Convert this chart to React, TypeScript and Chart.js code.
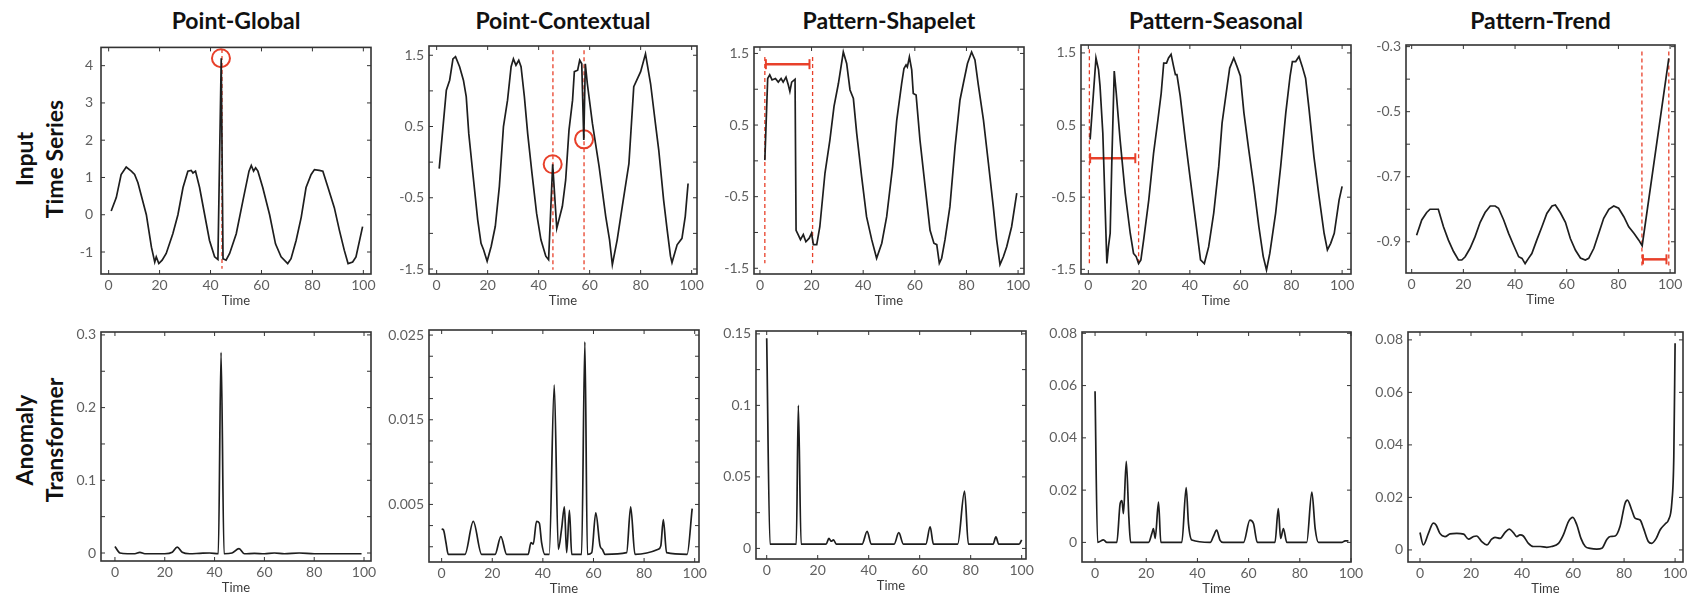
import React, { useEffect, useRef } from 'react';
import { Chart, registerables } from 'chart.js';

Chart.register(...registerables);

// ---------------- DATA ----------------
const columnTitles = ['Point-Global', 'Point-Contextual', 'Pattern-Shapelet', 'Pattern-Seasonal', 'Pattern-Trend'];
const rowTitles = [['Input', 'Time Series'], ['Anomaly', 'Transformer']];
const xAxisTitle = 'Time';

const xTickValues = [0, 20, 40, 60, 80, 100];
const xTickLabels = ['0', '20', '40', '60', '80', '100'];

// Input time series (top row)
const globalX = [1, 3, 4.9, 6.9, 8.9, 10.2, 11.5, 14.8, 16.8, 18.1, 18.7, 19.7, 21, 22.6, 25.2, 27.2, 29.2, 31.1, 32.4, 33.1, 34.1, 35.7, 37.7, 39.6, 41.6, 42.9, 44.2, 44.9, 46.1, 47.5, 50.1, 52.7, 55.1, 56, 56.9, 57.7, 58.6, 60.5, 63.2, 65.5, 67.7, 70.3, 71.6, 73.6, 75.6, 77.5, 79.5, 80.8, 82.7, 84.1, 86, 88.6, 90.6, 92.5, 94, 95.8, 97.1, 99.7];
const globalY = [0.1, 0.46, 1.08, 1.28, 1.17, 1.08, 0.86, 0, -0.87, -1.27, -1.13, -1.31, -1.22, -1.04, -0.51, 0, 0.73, 1.17, 1.19, 1.12, 1.17, 0.73, 0, -0.69, -1.13, -1.2, 4.2, -1.18, -1.22, -1.04, -0.51, 0.37, 1.17, 1.32, 1.17, 1.26, 1.17, 0.73, 0, -0.78, -1.13, -1.31, -1.18, -0.69, -0.07, 0.73, 1.08, 1.21, 1.19, 1.17, 0.76, 0.19, -0.42, -0.95, -1.31, -1.27, -1.13, -0.32];

const contextX = [1, 3.8, 5.1, 6.4, 7.4, 9, 10.5, 11.6, 12.6, 14.2, 16.1, 17.4, 18.4, 19.8, 21.4, 23, 24.6, 26.2, 27.8, 29.2, 30.1, 31.1, 32.2, 33.1, 34.4, 35.7, 37.4, 39.2, 40.9, 42.8, 43.9, 45.5, 47.1, 49.3, 50.6, 51.9, 53.3, 54, 55.3, 56.1, 56.9, 57.7, 58.3, 59.1, 61.1, 63.7, 66.3, 67.8, 68.9, 70.8, 72.8, 75.4, 77.3, 80, 81.9, 83.9, 85.8, 87.1, 89, 90.4, 91.7, 92.3, 94.3, 96.2, 97.5, 98.6];
const contextY = [-0.09, 1.01, 1.15, 1.45, 1.48, 1.34, 1.15, 0.92, 0.4, -0.16, -0.81, -1.14, -1.23, -1.39, -1.18, -0.9, -0.34, 0.5, 0.87, 1.34, 1.45, 1.36, 1.43, 1.34, 0.92, 0.4, -0.16, -0.72, -1.09, -1.32, -1.37, -0.03, -0.93, -0.62, -0.25, 0.45, 0.87, 1.27, 1.29, 1.43, 1.38, 0.31, 1.38, 1.1, 0.54, -0.06, -0.76, -1.09, -1.44, -1.09, -0.62, -0.02, 1.06, 1.27, 1.52, 1.1, 0.54, 0.17, -0.53, -0.95, -1.32, -1.41, -1.16, -1.07, -0.76, -0.3];

const shapeletX = [1.9, 3, 3.8, 4.7, 6, 7.1, 8.2, 9, 10.1, 11, 11.6, 12.3, 13.6, 14, 14.8, 15.7, 16.8, 17.8, 19.1, 20, 20.7, 22, 23.2, 25.2, 27.1, 28.7, 30.4, 32.3, 33.6, 34.9, 36.2, 37.5, 39.4, 41.3, 43.3, 45.2, 47.2, 49.1, 51.4, 53, 54.9, 55.8, 56.6, 57.1, 57.9, 58.8, 59.4, 60.5, 62, 64, 65.9, 67.4, 68.5, 69.5, 70.4, 71.7, 73.6, 75.6, 77.5, 78.8, 80.4, 82, 83.3, 84.6, 86.6, 88.5, 90.4, 91.7, 93, 94.3, 95.6, 97.5, 99.5];
const shapeletY = [0.01, 1.15, 1.2, 1.13, 1.15, 1.1, 1.15, 1.1, 1.17, 1.06, 0.97, 1.1, 1.14, -0.97, -1.03, -1.1, -1.03, -1.13, -1.08, -1.01, -1.17, -1.17, -0.92, -0.17, 0.29, 0.76, 1.08, 1.52, 1.36, 0.99, 0.87, 0.38, -0.22, -0.78, -1.1, -1.36, -1.15, -0.78, -0.08, 0.57, 1.08, 1.29, 1.34, 1.31, 1.45, 1.27, 0.94, 0.92, 0.29, -0.36, -0.97, -1.15, -1.17, -1.43, -1.36, -1.1, -0.64, 0.2, 0.85, 1.08, 1.36, 1.52, 1.41, 1.06, 0.57, -0.03, -0.64, -1.1, -1.45, -1.34, -1.2, -0.92, -0.45];

const seasonalX = [0.7, 3, 4, 4.6, 5.7, 6.6, 7.3, 7.9, 8.6, 9.2, 10.2, 11, 12.5, 14.5, 16.5, 17.8, 18.8, 19.8, 20.7, 21.8, 23.8, 25.7, 27.4, 28.7, 29.7, 30.8, 31.6, 32.6, 33.6, 34.3, 34.9, 36.2, 38.2, 40.2, 42.2, 44.2, 45.7, 47.4, 49.4, 51.4, 52.7, 54.7, 55.7, 57.3, 58.6, 59.9, 61.3, 63.2, 65.2, 67.2, 68.9, 70.2, 71.5, 73.8, 75.8, 77.8, 79.5, 80.4, 81.7, 83, 84.3, 85.6, 87, 88.9, 90.9, 92.9, 94.2, 95.5, 96.9, 98.8, 100];
const seasonalY = [0.3, 1.43, 1.27, 1.04, 0.39, -0.63, -1.42, -1.19, -1.0, -0.07, 1.25, 0.94, 0.3, -0.44, -1.0, -1.28, -1.32, -1.42, -1.37, -1.09, -0.54, 0.11, 0.57, 0.94, 1.36, 1.36, 1.43, 1.48, 1.31, 1.2, 1.2, 0.9, 0.3, -0.26, -0.81, -1.37, -1.42, -1.19, -0.72, -0.07, 0.53, 1.04, 1.29, 1.43, 1.31, 1.18, 0.67, 0.16, -0.35, -0.91, -1.32, -1.51, -1.28, -0.72, -0.07, 0.67, 1.18, 1.38, 1.38, 1.45, 1.31, 1.15, 0.71, 0.06, -0.49, -1.0, -1.23, -1.14, -1.0, -0.54, -0.35];

const trendX = [1.9, 3.9, 5.8, 7.1, 9, 10.3, 12.3, 14.2, 16.2, 18.1, 19.4, 20.7, 22.6, 24.5, 26.5, 28.4, 30.4, 32.3, 33.6, 35.6, 37.5, 39.4, 41.4, 42.7, 43.9, 45.2, 46.5, 48.4, 50.4, 52.3, 54.3, 55.6, 57.5, 59.5, 61.4, 63.4, 65.3, 67.2, 68.5, 70.5, 72.4, 74.3, 76.3, 78.2, 80.1, 82.1, 84, 86, 87.9, 89.2, 99.5];
const trendY = [-0.88, -0.833, -0.81, -0.8, -0.8, -0.8, -0.854, -0.895, -0.93, -0.956, -0.956, -0.946, -0.92, -0.885, -0.84, -0.81, -0.79, -0.79, -0.797, -0.833, -0.874, -0.91, -0.946, -0.951, -0.967, -0.951, -0.936, -0.895, -0.854, -0.813, -0.79, -0.787, -0.81, -0.84, -0.89, -0.926, -0.95, -0.956, -0.951, -0.92, -0.874, -0.828, -0.8, -0.79, -0.797, -0.823, -0.854, -0.874, -0.895, -0.912, -0.336];

// Anomaly Transformer scores (bottom row)
const scoreGlobalX = [0, 2, 5, 8, 10, 12, 16, 20, 23, 25, 27, 30, 34, 38, 41.5, 42.6, 43.8, 47, 49.8, 52, 56, 60, 64, 68, 74, 80, 86, 92, 99];
const scoreGlobalY = [0.009, 0, -0.001, -0.001, 0.001, -0.001, -0.001, -0.001, 0.001, 0.008, 0.001, -0.001, -0.0005, 0, -0.001, 0.276, -0.001, 0, 0.006, -0.001, -0.0005, -0.001, 0, -0.001, 0, -0.001, -0.001, -0.001, -0.001];

const scoreContextX = [0, 0.7, 1.7, 2.6, 9.2, 12.5, 15.8, 21.1, 23.4, 25.7, 34.2, 35.3, 36.2, 37.5, 38.6, 39.5, 40.8, 42.5, 44.5, 46.1, 47.4, 48.5, 49.4, 50.5, 51.4, 55.3, 56.6, 57.6, 59.3, 60.9, 62.6, 63.5, 64.6, 73.1, 74.7, 76.4, 85.6, 86.6, 87.6, 88.9, 97, 99];
const scoreContextY = [0.0021, 0.002, 0.0005, -0.0009, -0.0009, 0.003, -0.0009, -0.0009, 0.0012, -0.0009, -0.0009, 0.0005, 0.0003, 0.003, 0.0028, 0.0005, -0.0009, -0.0009, 0.0191, -0.0003, 0.0021, 0.0047, -0.0007, 0.0043, -0.0009, -0.0009, 0.0242, -0.0009, -0.0007, 0.004, 0.0001, -0.0003, -0.0009, -0.0007, 0.0047, -0.0009, -0.0003, 0.0001, 0.0032, -0.0007, -0.0009, 0.0045];

const scoreShapeletX = [0, 1.3, 11.6, 12.4, 13.5, 23.3, 24.4, 25.3, 26.2, 27.3, 37.4, 39.4, 41, 50, 51.8, 53.6, 62.4, 64.1, 65.4, 74.9, 77.6, 79.1, 88.8, 89.9, 91, 99, 100];
const scoreShapeletY = [0.147, 0.003, 0.003, 0.1, 0.003, 0.003, 0.007, 0.005, 0.006, 0.003, 0.003, 0.012, 0.003, 0.003, 0.011, 0.003, 0.003, 0.015, 0.003, 0.003, 0.04, 0.003, 0.003, 0.008, 0.003, 0.003, 0.006];

const scoreSeasonalX = [0, 1, 3.3, 4.6, 8.5, 9.8, 10.5, 11.1, 12.2, 13.2, 13.9, 20.9, 22.2, 22.8, 23.5, 24.8, 25.7, 33.9, 35.6, 36.5, 37.8, 45, 46.2, 47.5, 48.8, 50.1, 58, 60.5, 61.9, 63.4, 70.3, 71.6, 72.5, 73.6, 74.9, 82.7, 84.7, 86, 87.3, 96.4, 97.7, 99];
const scoreSeasonalY = [0.0578, 0, 0.001, 0, 0, 0.0148, 0.016, 0.011, 0.031, 0.0097, 0, 0, 0.0034, 0.0053, 0.0015, 0.0154, 0, 0, 0.021, 0.0072, 0.0009, 0, 0.0022, 0.0047, 0.0009, 0, 0, 0.0085, 0.0072, 0, 0, 0.0129, 0.0015, 0.0053, 0, 0, 0.0192, 0.0053, 0, 0, 0.0006, 0.0006];

const scoreTrendX = [0, 1.3, 3.3, 5.2, 6.3, 7.8, 9.8, 11.8, 14.4, 17.1, 19, 21, 22.2, 24.2, 26.2, 28.1, 29.4, 31.4, 33.3, 35, 36.6, 37.9, 39.2, 40.5, 42.5, 44.4, 47.1, 49.7, 51.6, 54.3, 56.2, 58.2, 59.9, 61.5, 63.1, 64.8, 66.7, 69.3, 71.3, 73.3, 74.6, 76.5, 78.4, 80.4, 81.3, 83, 84.3, 86.3, 87.6, 89.5, 90.8, 92.6, 94.1, 96.1, 97.4, 98.7, 99.5, 100];
const scoreTrendY = [0.0066, 0.0019, 0.0063, 0.0102, 0.0095, 0.0063, 0.0051, 0.0061, 0.0063, 0.006, 0.0041, 0.0051, 0.0053, 0.0032, 0.0019, 0.0041, 0.0048, 0.0044, 0.0066, 0.0079, 0.0066, 0.0051, 0.0057, 0.0053, 0.0025, 0.0013, 0.0013, 0.001, 0.0013, 0.0025, 0.0057, 0.0108, 0.0124, 0.0095, 0.0044, 0.0013, 0.0006, 0.0003, 0.0006, 0.0041, 0.0051, 0.0053, 0.0089, 0.0178, 0.019, 0.0152, 0.0121, 0.0114, 0.0083, 0.0032, 0.0025, 0.0044, 0.0076, 0.0099, 0.0114, 0.0178, 0.0356, 0.0787];

// y ticks
const yTicksGlobal = [-1, 0, 1, 2, 3, 4];
const yLabelsGlobal = ['-1', '0', '1', '2', '3', '4'];
const yTicksSine = [-1.5, -1, -0.5, 0, 0.5, 1, 1.5];
const yLabelsSine = ['-1.5', '', '-0.5', '', '0.5', '', '1.5'];
const yTicksTrend = [-0.9, -0.8, -0.7, -0.6, -0.5, -0.4, -0.3];
const yLabelsTrend = ['-0.9', '', '-0.7', '', '-0.5', '', '-0.3'];
const yTicksScoreGlobal = [0, 0.05, 0.1, 0.15, 0.2, 0.25, 0.3];
const yLabelsScoreGlobal = ['0', '', '0.1', '', '0.2', '', '0.3'];
const yTicksScoreContext = [0, 0.0025, 0.005, 0.0075, 0.01, 0.0125, 0.015, 0.0175, 0.02, 0.0225, 0.025];
const yLabelsScoreContext = ['', '', '0.005', '', '', '', '0.015', '', '', '', '0.025'];
const yTicksScoreShapelet = [0, 0.025, 0.05, 0.075, 0.1, 0.125, 0.15];
const yLabelsScoreShapelet = ['0', '', '0.05', '', '0.1', '', '0.15'];
const yTicksScore08 = [0, 0.02, 0.04, 0.06, 0.08];
const yLabelsScore08 = ['0', '0.02', '0.04', '0.06', '0.08'];

// red anomaly markers
const globalDashX = [44.5];
const globalDashY = [4.45, -1.45];
const globalCircleX = [44.1];
const globalCircleY = [4.2];
const contextDashX = [45.6, 57.8];
const contextDashY = [1.57, -1.51];
const contextCircleX = [45.5, 57.8];
const contextCircleY = [-0.03, 0.32];
const shapeletDashX = [1.9, 20.4];
const shapeletDashY = [1.45, -1.43];
const shapeletSpanX = [2.3, 19.2];
const shapeletSpanY = [1.35, 1.35];
const seasonalDashX = [0.4, 19.8];
const seasonalDashY = [1.55, -1.42];
const seasonalSpanX = [0.7, 18.5];
const seasonalSpanY = [0.04, 0.04];
const trendDashX = [89.1, 99.5];
const trendDashY = [-0.315, -0.977];
const trendSpanX = [89.5, 98.6];
const trendSpanY = [-0.954, -0.954];

// ---------------- STYLE / LAYOUT ----------------
const RED = '#e8402a';
const INK = '#1e1e1e';
const FRAME = '#333333';
const FONT = 'Lato, "Open Sans", "DejaVu Sans", sans-serif';
const AX_W = 60;
const PAD_T = 14;
const PAD_R = 22;
const AX_H = 35;

type Box = [number, number, number, number];

interface PanelCfg {
  box: Box;
  xRange: [number, number];
  yRange: [number, number];
  xs: number[];
  ys: number[];
  yTicks: number[];
  yLabels: string[];
  smooth: boolean;
  yPad: number;
  extras: any[];
}

const pts = (xs: number[], ys: number[]) => xs.map((x, i) => ({ x, y: ys[i] }));

function dashDatasets(xs: number[], ys: number[]) {
  return xs.map((x) => ({
    data: [{ x, y: ys[0] }, { x, y: ys[1] }],
    borderColor: RED,
    borderWidth: 1.3,
    borderDash: [4, 3],
    pointRadius: 0,
  }));
}
function circleDataset(xs: number[], ys: number[]) {
  return {
    data: pts(xs, ys),
    showLine: false,
    borderColor: RED,
    backgroundColor: 'rgba(0,0,0,0)',
    pointRadius: 9,
    pointBorderWidth: 2,
    pointBackgroundColor: 'rgba(0,0,0,0)',
    pointBorderColor: RED,
  };
}
function spanDataset(xs: number[], ys: number[]) {
  return {
    data: pts(xs, ys),
    borderColor: RED,
    borderWidth: 2.5,
    pointStyle: 'line',
    pointRotation: 90,
    pointRadius: 5,
    pointBorderWidth: 2,
    pointBorderColor: RED,
  };
}

const topPanels: PanelCfg[] = [
  { box: [101, 45, 371, 274], xRange: [-3, 103], yRange: [-1.59, 4.49], xs: globalX, ys: globalY, yTicks: yTicksGlobal, yLabels: yLabelsGlobal, smooth: false, yPad: 8,
    extras: [...dashDatasets(globalDashX, globalDashY), circleDataset(globalCircleX, globalCircleY)] },
  { box: [429, 46, 697, 274], xRange: [-3, 102.1], yRange: [-1.57, 1.63], xs: contextX, ys: contextY, yTicks: yTicksSine, yLabels: yLabelsSine, smooth: false, yPad: 5,
    extras: [...dashDatasets(contextDashX, contextDashY), circleDataset(contextCircleX, contextCircleY)] },
  { box: [754, 47, 1024, 274], xRange: [-2.3, 102.3], yRange: [-1.58, 1.59], xs: shapeletX, ys: shapeletY, yTicks: yTicksSine, yLabels: yLabelsSine, smooth: false, yPad: 5,
    extras: [...dashDatasets(shapeletDashX, shapeletDashY), spanDataset(shapeletSpanX, shapeletSpanY)] },
  { box: [1081, 45, 1351, 274], xRange: [-2.9, 103.5], yRange: [-1.565, 1.61], xs: seasonalX, ys: seasonalY, yTicks: yTicksSine, yLabels: yLabelsSine, smooth: false, yPad: 5,
    extras: [...dashDatasets(seasonalDashX, seasonalDashY), spanDataset(seasonalSpanX, seasonalSpanY)] },
  { box: [1406, 45, 1675, 273], xRange: [-2.2, 101.9], yRange: [-0.996, -0.295], xs: trendX, ys: trendY, yTicks: yTicksTrend, yLabels: yLabelsTrend, smooth: false, yPad: 5,
    extras: [...dashDatasets(trendDashX, trendDashY), spanDataset(trendSpanX, trendSpanY)] },
];

const bottomPanels: PanelCfg[] = [
  { box: [101, 332, 371, 561], xRange: [-5.6, 102.8], yRange: [-0.011, 0.304], xs: scoreGlobalX, ys: scoreGlobalY, yTicks: yTicksScoreGlobal, yLabels: yLabelsScoreGlobal, smooth: true, yPad: 5, extras: [] },
  { box: [429, 330, 699, 562], xRange: [-5, 101.7], yRange: [-0.0018, 0.0256], xs: scoreContextX, ys: scoreContextY, yTicks: yTicksScoreContext, yLabels: yLabelsScoreContext, smooth: true, yPad: 5, extras: [] },
  { box: [756, 331, 1026, 559], xRange: [-4.2, 101.7], yRange: [-0.0074, 0.152], xs: scoreShapeletX, ys: scoreShapeletY, yTicks: yTicksScoreShapelet, yLabels: yLabelsScoreShapelet, smooth: true, yPad: 5, extras: [] },
  { box: [1082, 332, 1351, 562], xRange: [-5.1, 100], yRange: [-0.0075, 0.0805], xs: scoreSeasonalX, ys: scoreSeasonalY, yTicks: yTicksScore08, yLabels: yLabelsScore08, smooth: true, yPad: 5, extras: [] },
  { box: [1408, 332, 1683, 562], xRange: [-4.7, 103.1], yRange: [-0.0046, 0.083], xs: scoreTrendX, ys: scoreTrendY, yTicks: yTicksScore08, yLabels: yLabelsScore08, smooth: true, yPad: 5, extras: [] },
];

const framePlugin = {
  id: 'matlabFrame',
  afterDraw(chart: any) {
    const { ctx, chartArea: a, scales } = chart;
    ctx.save();
    ctx.strokeStyle = FRAME;
    ctx.lineWidth = 1;
    const L = 4;
    const line = (x1: number, y1: number, x2: number, y2: number) => {
      ctx.beginPath();
      ctx.moveTo(x1, y1);
      ctx.lineTo(x2, y2);
      ctx.stroke();
    };
    scales.x.ticks.forEach((t: any) => {
      const px = scales.x.getPixelForValue(t.value);
      line(px, a.bottom, px, a.bottom - L);
      line(px, a.top, px, a.top + L);
    });
    scales.y.ticks.forEach((t: any) => {
      const py = scales.y.getPixelForValue(t.value);
      line(a.left, py, a.left + L, py);
      line(a.right, py, a.right - L, py);
    });
    ctx.lineWidth = 1.6;
    ctx.strokeRect(a.left, a.top, a.right - a.left, a.bottom - a.top);
    ctx.restore();
  },
};

function buildConfig(p: PanelCfg): any {
  const tickFont = { family: FONT, size: 14 };
  return {
    type: 'line',
    data: {
      datasets: [
        {
          data: pts(p.xs, p.ys),
          borderColor: INK,
          borderWidth: 1.7,
          pointRadius: 0,
          tension: 0,
          cubicInterpolationMode: p.smooth ? 'monotone' : 'default',
        },
        ...p.extras,
      ],
    },
    options: {
      animation: false,
      responsive: false,
      maintainAspectRatio: false,
      devicePixelRatio: 1,
      layout: { padding: { left: 0, top: PAD_T, right: PAD_R, bottom: 0 } },
      plugins: { legend: { display: false }, tooltip: { enabled: false }, title: { display: false } },
      events: [],
      scales: {
        x: {
          type: 'linear',
          min: p.xRange[0],
          max: p.xRange[1],
          grid: { display: false, drawTicks: false },
          border: { display: false },
          afterFit: (s: any) => { s.height = AX_H; },
          afterBuildTicks: (s: any) => { s.ticks = xTickValues.map((v) => ({ value: v })); },
          ticks: {
            autoSkip: false,
            maxRotation: 0,
            padding: 3,
            color: '#5f5f5f',
            font: tickFont,
            callback: (_v: any, i: number) => xTickLabels[i],
          },
          title: { display: true, text: xAxisTitle, color: '#3a3a3a', font: { family: FONT, size: 13 }, padding: { top: 0, bottom: 0 } },
        },
        y: {
          type: 'linear',
          min: p.yRange[0],
          max: p.yRange[1],
          grid: { display: false, drawTicks: false },
          border: { display: false },
          afterFit: (s: any) => { s.width = AX_W; },
          afterBuildTicks: (s: any) => { s.ticks = p.yTicks.map((v) => ({ value: v })); },
          ticks: {
            autoSkip: false,
            padding: p.yPad,
            color: '#5f5f5f',
            font: tickFont,
            callback: (_v: any, i: number) => p.yLabels[i],
          },
        },
      },
    },
    plugins: [framePlugin],
  };
}

function PanelChart({ p }: { p: PanelCfg }) {
  const ref = useRef<HTMLCanvasElement>(null);
  const w = p.box[2] - p.box[0] + AX_W + PAD_R;
  const h = p.box[3] - p.box[1] + PAD_T + AX_H;
  useEffect(() => {
    const chart = new Chart(ref.current as HTMLCanvasElement, buildConfig(p));
    return () => chart.destroy();
  }, []);
  return (
    <canvas
      ref={ref}
      width={w}
      height={h}
      style={{ position: 'absolute', left: p.box[0] - AX_W, top: p.box[1] - PAD_T, width: w, height: h }}
    />
  );
}

export default function App() {
  return (
    <div style={{ position: 'absolute', left: 0, top: 0, width: 1689, height: 597, overflow: 'hidden', background: '#fff', fontFamily: FONT }}>
      {topPanels.map((p, i) => (
        <div
          key={'t' + i}
          style={{
            position: 'absolute',
            left: (p.box[0] + p.box[2]) / 2,
            top: 20,
            transform: 'translate(-50%, -50%)',
            fontSize: 23,
            fontWeight: 700,
            color: '#111',
            whiteSpace: 'nowrap',
          }}
        >
          {columnTitles[i]}
        </div>
      ))}
      {rowTitles.map((lines, r) => (
        <div
          key={'r' + r}
          style={{
            position: 'absolute',
            left: 39,
            top: r === 0 ? 159 : 440,
            transform: 'translate(-50%, -50%) rotate(-90deg)',
            fontSize: 23,
            fontWeight: 700,
            lineHeight: '30px',
            color: '#111',
            textAlign: 'center',
            whiteSpace: 'nowrap',
          }}
        >
          {lines.map((l, k) => (
            <div key={k}>{l}</div>
          ))}
        </div>
      ))}
      {topPanels.map((p, i) => (
        <PanelChart key={'pt' + i} p={p} />
      ))}
      {bottomPanels.map((p, i) => (
        <PanelChart key={'pb' + i} p={p} />
      ))}
    </div>
  );
}
